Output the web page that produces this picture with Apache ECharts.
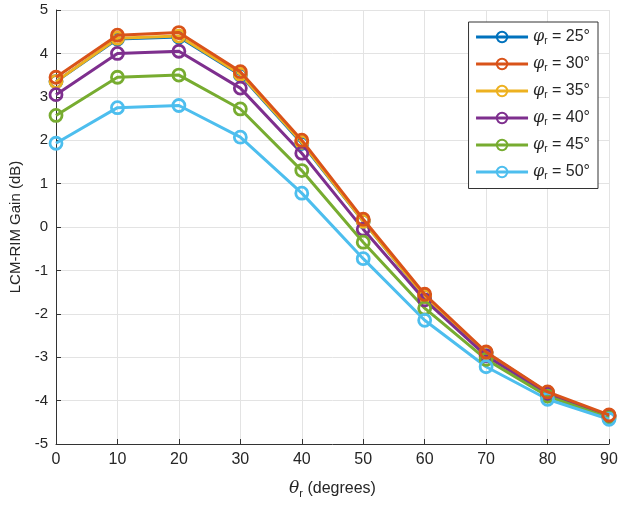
<!DOCTYPE html>
<html>
<head>
<meta charset="utf-8">
<script src="https://cdn.jsdelivr.net/npm/echarts@6/dist/echarts.min.js"></script>
<style>
  html, body { margin: 0; padding: 0; background: #fff; }
  #chart { width: 629px; height: 510px; }
</style>
</head>
<body>
<div id="chart"></div>
<script>
// theta_r (degrees)
var thetaR = [0, 10, 20, 30, 40, 50, 60, 70, 80, 90];
var phiLabels = ["25", "30", "35", "40", "45", "50"];

// LCM-RIM gain (dB) per phi_r
var gain25 = [3.35, 4.33, 4.38, 3.50, 1.93, 0.13, -1.60, -2.90, -3.82, -4.35];
var gain30 = [3.45, 4.42, 4.48, 3.58, 2.00, 0.18, -1.55, -2.88, -3.80, -4.33];
var gain35 = [3.35, 4.35, 4.40, 3.52, 1.95, 0.13, -1.60, -2.90, -3.82, -4.35];
var gain40 = [3.05, 4.00, 4.05, 3.20, 1.70, -0.05, -1.68, -2.97, -3.85, -4.37];
var gain45 = [2.57, 3.45, 3.50, 2.72, 1.30, -0.35, -1.87, -3.05, -3.90, -4.40];
var gain50 = [1.93, 2.75, 2.80, 2.07, 0.78, -0.73, -2.15, -3.22, -3.97, -4.43];

var colors = ["#0072BD", "#D95319", "#EDB120", "#7E2F8E", "#77AC30", "#4DBEEE"];
var allGains = [gain25, gain30, gain35, gain40, gain45, gain50];

var series = allGains.map(function (g, i) {
  return {
    name: phiLabels[i],
    type: "line",
    data: thetaR.map(function (t, j) { return [t, g[j]]; }),
    symbol: "circle",
    symbolSize: 12,
    itemStyle: { color: "rgba(255,255,255,0)", borderColor: colors[i], borderWidth: 2.8 },
    lineStyle: { color: colors[i], width: 3 },
    emphasis: { disabled: true },
    z: 2 + (i === 1 ? 1 : 0)
  };
});

var chart = echarts.init(document.getElementById("chart"), null, { renderer: "canvas" });
chart.setOption({
  animation: false,
  textStyle: { fontFamily: "Liberation Sans, Arial, sans-serif" },
  grid: { left: 55, right: 20, top: 10, bottom: 66 },
  xAxis: {
    type: "value",
    min: 0, max: 90, interval: 10,
    name: "{i|θ}{s|r} (degrees)",
    nameLocation: "middle",
    nameGap: 34,
    nameTextStyle: {
      fontSize: 16, color: "#262626",
      rich: {
        i: { fontSize: 17, fontStyle: "italic", color: "#262626", fontFamily: "DejaVu Serif" },
        s: { fontSize: 11, color: "#262626", verticalAlign: "bottom", padding: [10, 0, 0, 0] }
      }
    },
    axisLine: { onZero: false, lineStyle: { color: "#333", width: 1 } },
    axisTick: { inside: true, length: 5, lineStyle: { color: "#333" } },
    axisLabel: { fontSize: 16, color: "#262626", margin: 8 },
    splitLine: { show: true, lineStyle: { color: "#e3e3e3", width: 1 } }
  },
  yAxis: {
    type: "value",
    min: -5, max: 5, interval: 1,
    name: "LCM-RIM Gain (dB)",
    nameLocation: "middle",
    nameGap: 33,
    nameTextStyle: { fontSize: 15, color: "#262626" },
    axisLine: { show: true, onZero: false, lineStyle: { color: "#333", width: 1 } },
    axisTick: { show: true, inside: true, length: 5, lineStyle: { color: "#333" } },
    axisLabel: { fontSize: 15, color: "#262626", margin: 8 },
    splitLine: { show: true, lineStyle: { color: "#e3e3e3", width: 1 } }
  },
  legend: {
    orient: "vertical",
    right: 31,
    top: 22,
    padding: [7, 8, 7, 6],
    itemGap: 9.5,
    itemWidth: 52,
    itemHeight: 13,
    backgroundColor: "#fff",
    borderColor: "#333",
    borderWidth: 1,
    borderRadius: 0,
    lineStyle: { width: 3 },
    data: phiLabels,
    formatter: function (name) { return "{i|φ}{s|r} = " + name + "°"; },
    textStyle: {
      fontSize: 16, color: "#262626",
      rich: {
        i: { fontSize: 16, fontStyle: "italic", color: "#262626", fontFamily: "DejaVu Serif" },
        s: { fontSize: 10, color: "#262626", verticalAlign: "bottom", padding: [9, 0, 0, 0] }
      }
    }
  },
  series: series
});
</script>
</body>
</html>
